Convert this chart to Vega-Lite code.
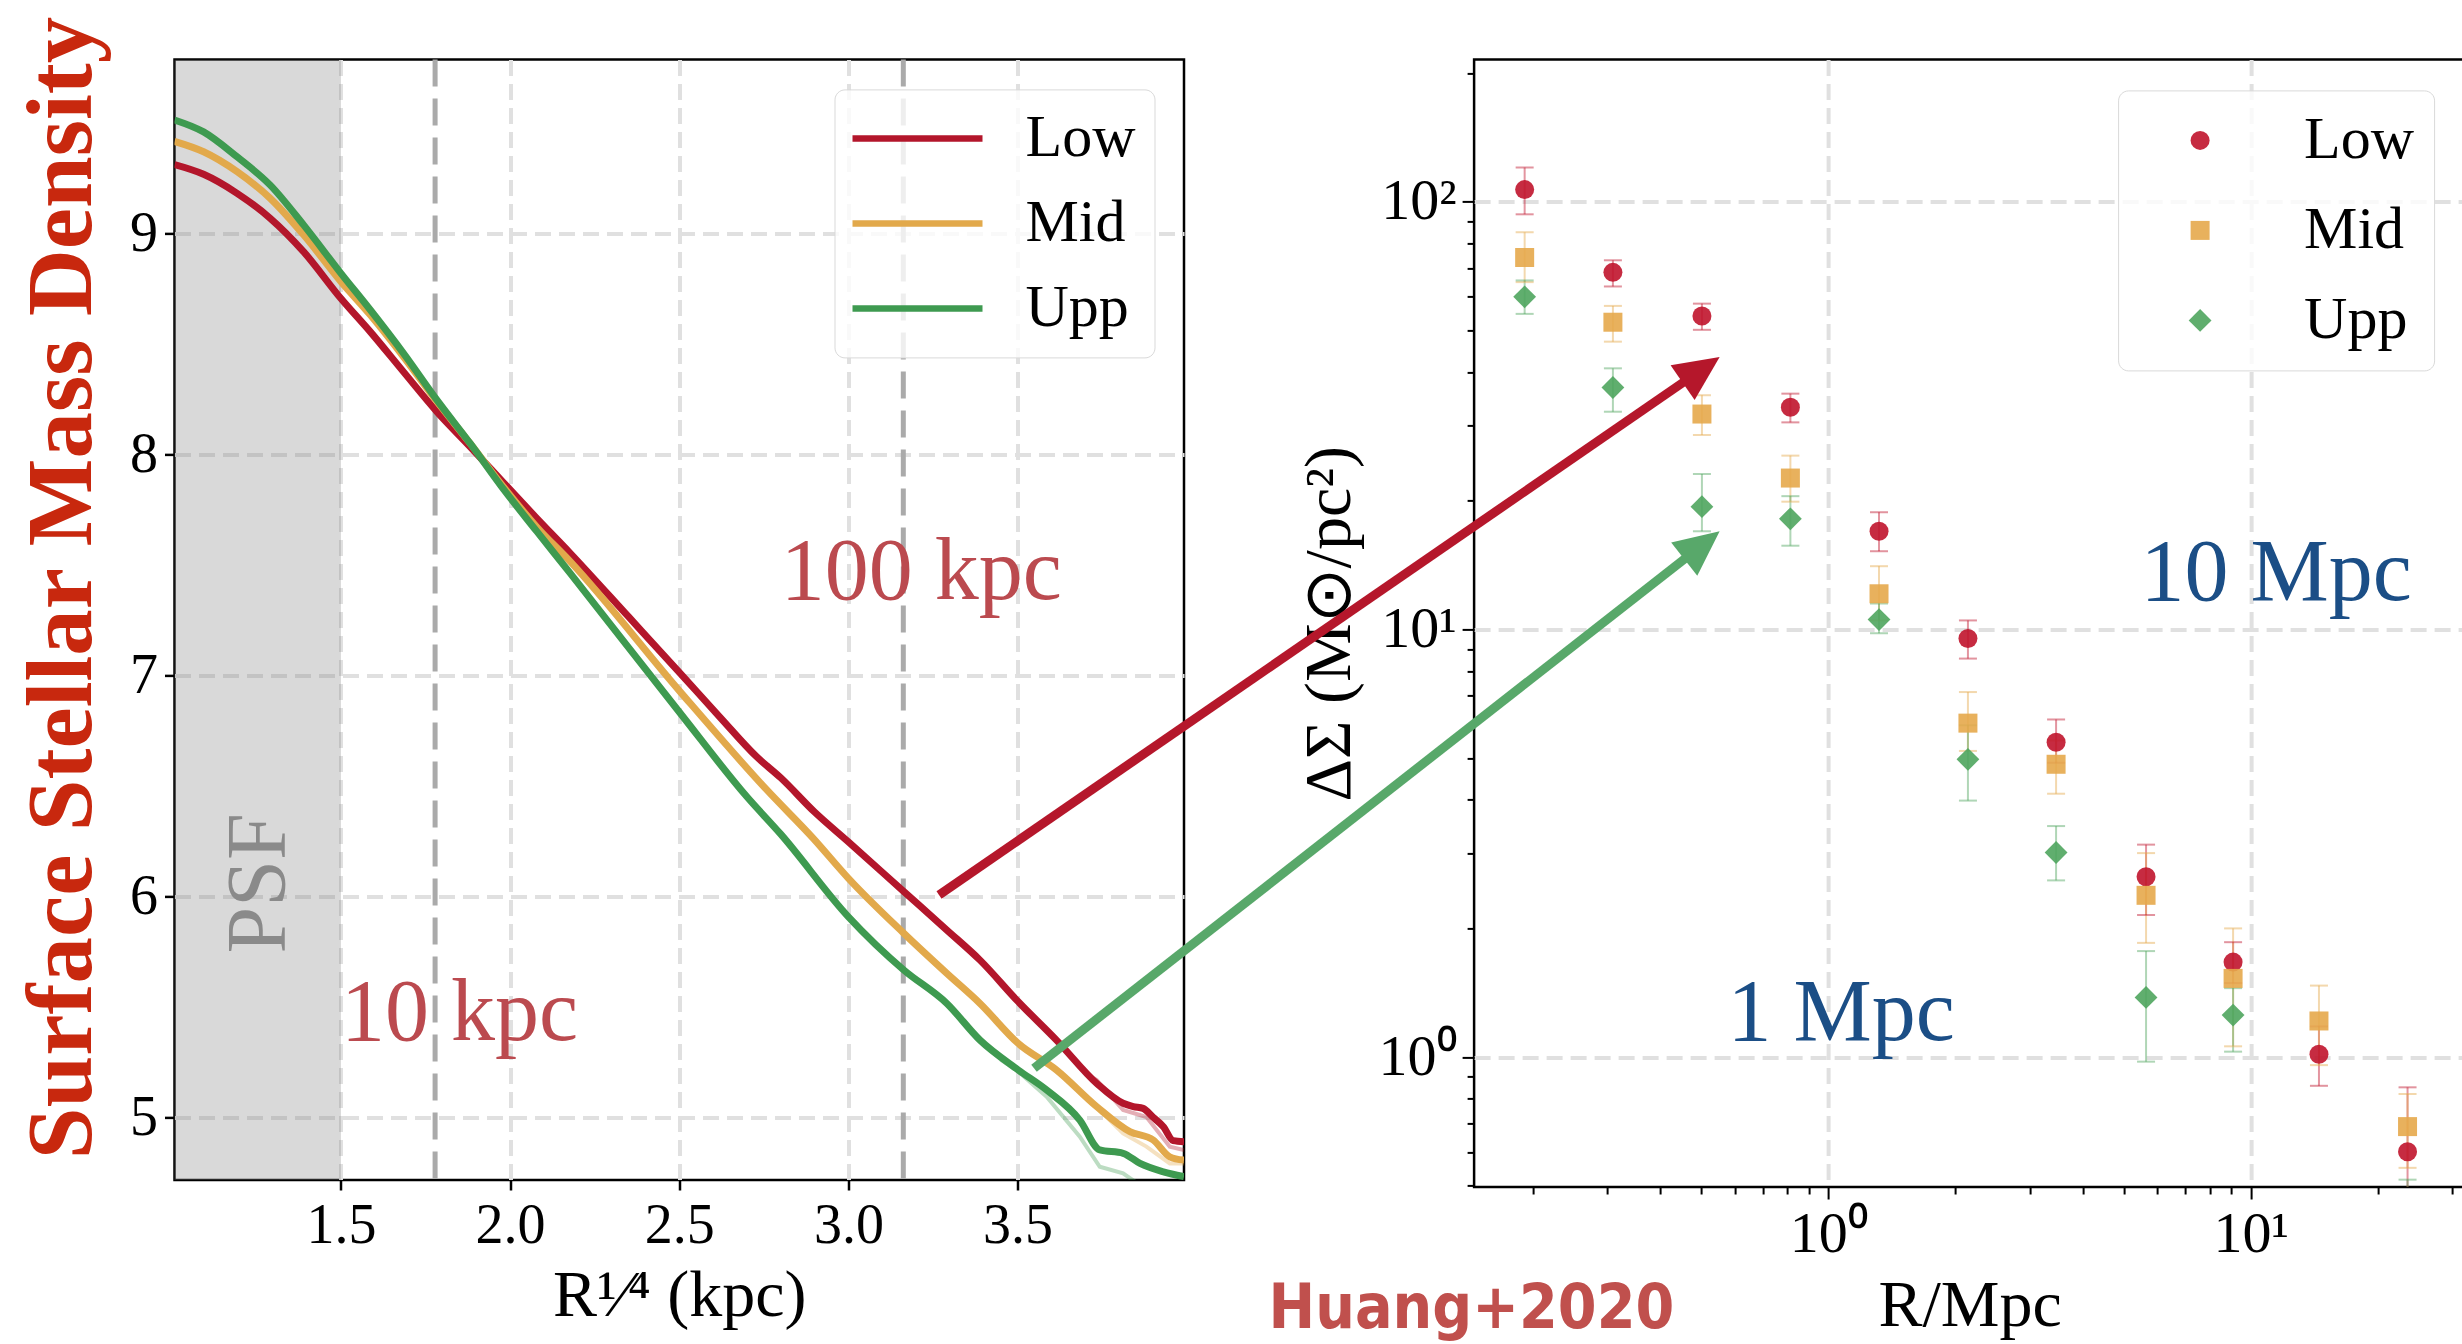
{
 "$schema": "https://vega.github.io/schema/vega-lite/v6.json",
 "autosize": {"type": "none"},
 "padding": {"left": 174.5, "top": 59.4, "right": 2287.5, "bottom": 1284.6},
 "background": "white",
 "config": {"view": {"stroke": "black", "strokeWidth": 2.5}},
 "bounds": "flush",
 "spacing": 289.6,
 "resolve": {"scale": {"color": "independent", "shape": "independent", "size": "independent"}, "legend": {"color": "independent", "shape": "independent", "size": "independent"}},
 "datasets": {
  "psf": [{"R": 1.0, "R2": 1.5}],
  "vlines": [{"R": 1.7783}, {"R": 3.1623}],
  "curves": [
   {"g":"Low","R":1.008,"v":9.31},{"g":"Low","R":1.094,"v":9.266},{"g":"Low","R":1.193,"v":9.18},{"g":"Low","R":1.291,"v":9.067},{"g":"Low","R":1.39,"v":8.915},{"g":"Low","R":1.5,"v":8.704},{"g":"Low","R":1.587,"v":8.553},{"g":"Low","R":1.685,"v":8.372},{"g":"Low","R":1.784,"v":8.191},{"g":"Low","R":1.882,"v":8.033},{"g":"Low","R":1.981,"v":7.87},{"g":"Low","R":2.079,"v":7.709},{"g":"Low","R":2.178,"v":7.551},{"g":"Low","R":2.35,"v":7.264},{"g":"Low","R":2.503,"v":7.008},{"g":"Low","R":2.62,"v":6.81},{"g":"Low","R":2.729,"v":6.63},{"g":"Low","R":2.8,"v":6.535},{"g":"Low","R":2.9,"v":6.38},{"g":"Low","R":3.0,"v":6.245},{"g":"Low","R":3.164,"v":6.02},{"g":"Low","R":3.291,"v":5.846},{"g":"Low","R":3.389,"v":5.71},{"g":"Low","R":3.502,"v":5.522},{"g":"Low","R":3.615,"v":5.348},{"g":"Low","R":3.734,"v":5.152},{"g":"Low","R":3.812,"v":5.062},{"g":"Low","R":3.842,"v":5.047},{"g":"Low","R":3.871,"v":5.039},{"g":"Low","R":3.9,"v":5.0},{"g":"Low","R":3.931,"v":4.956},{"g":"Low","R":3.96,"v":4.893},{"g":"Low","R":3.992,"v":4.888},
   {"g":"Mid","R":1.008,"v":9.415},{"g":"Mid","R":1.094,"v":9.368},{"g":"Mid","R":1.193,"v":9.278},{"g":"Mid","R":1.291,"v":9.157},{"g":"Mid","R":1.39,"v":8.991},{"g":"Mid","R":1.5,"v":8.78},{"g":"Mid","R":1.587,"v":8.629},{"g":"Mid","R":1.685,"v":8.44},{"g":"Mid","R":1.784,"v":8.237},{"g":"Mid","R":1.882,"v":8.048},{"g":"Mid","R":1.981,"v":7.85},{"g":"Mid","R":2.079,"v":7.67},{"g":"Mid","R":2.178,"v":7.513},{"g":"Mid","R":2.503,"v":6.924},{"g":"Mid","R":2.759,"v":6.48},{"g":"Mid","R":2.896,"v":6.261},{"g":"Mid","R":3.0,"v":6.08},{"g":"Mid","R":3.164,"v":5.831},{"g":"Mid","R":3.291,"v":5.65},{"g":"Mid","R":3.389,"v":5.514},{"g":"Mid","R":3.502,"v":5.333},{"g":"Mid","R":3.615,"v":5.213},{"g":"Mid","R":3.734,"v":5.047},{"g":"Mid","R":3.832,"v":4.934},{"g":"Mid","R":3.901,"v":4.896},{"g":"Mid","R":3.95,"v":4.82},{"g":"Mid","R":3.992,"v":4.805},
   {"g":"Upp","R":1.008,"v":9.512},{"g":"Upp","R":1.094,"v":9.458},{"g":"Upp","R":1.193,"v":9.345},{"g":"Upp","R":1.291,"v":9.217},{"g":"Upp","R":1.39,"v":9.036},{"g":"Upp","R":1.5,"v":8.818},{"g":"Upp","R":1.587,"v":8.652},{"g":"Upp","R":1.685,"v":8.456},{"g":"Upp","R":1.784,"v":8.244},{"g":"Upp","R":1.882,"v":8.048},{"g":"Upp","R":1.981,"v":7.84},{"g":"Upp","R":2.079,"v":7.65},{"g":"Upp","R":2.178,"v":7.46},{"g":"Upp","R":2.503,"v":6.827},{"g":"Upp","R":2.7,"v":6.449},{"g":"Upp","R":2.8,"v":6.28},{"g":"Upp","R":3.0,"v":5.906},{"g":"Upp","R":3.164,"v":5.665},{"g":"Upp","R":3.291,"v":5.514},{"g":"Upp","R":3.389,"v":5.348},{"g":"Upp","R":3.502,"v":5.213},{"g":"Upp","R":3.586,"v":5.122},{"g":"Upp","R":3.684,"v":4.986},{"g":"Upp","R":3.743,"v":4.851},{"g":"Upp","R":3.812,"v":4.836},{"g":"Upp","R":3.862,"v":4.79},{"g":"Upp","R":3.931,"v":4.752},{"g":"Upp","R":3.992,"v":4.73}
  ],
  "faint": [
   {"g":"Low","R":3.7,"v":5.2},{"g":"Low","R":3.734,"v":5.167},{"g":"Low","R":3.812,"v":5.032},{"g":"Low","R":3.881,"v":5.0},{"g":"Low","R":3.95,"v":4.866},{"g":"Low","R":3.992,"v":4.85},
   {"g":"Mid","R":3.75,"v":5.02},{"g":"Mid","R":3.812,"v":4.926},{"g":"Mid","R":3.881,"v":4.866},{"g":"Mid","R":3.95,"v":4.79},{"g":"Mid","R":3.992,"v":4.79},
   {"g":"Upp","R":3.45,"v":5.26},{"g":"Upp","R":3.502,"v":5.206},{"g":"Upp","R":3.586,"v":5.092},{"g":"Upp","R":3.684,"v":4.911},{"g":"Upp","R":3.743,"v":4.775},{"g":"Upp","R":3.812,"v":4.745},{"g":"Upp","R":3.862,"v":4.692}
  ],
  "kpc": [{"t":"10 kpc","R":1.5,"v":5.35},{"t":"100 kpc","R":2.8,"v":7.344}],
  "psflab": [{"t":"PSF","R":1.335,"v":6.057}],
  "ylab": [{"t":"Surface Stellar Mass Density","R":0.76,"v":7.394}],
  "wl": [
   {"g":"Low","r":0.191,"ds":106.8,"lo":93.5,"hi":120.3},{"g":"Low","r":0.309,"ds":68.4,"lo":63.4,"hi":73.0},{"g":"Low","r":0.502,"ds":54.1,"lo":50.2,"hi":57.8},{"g":"Low","r":0.813,"ds":33.1,"lo":30.5,"hi":35.6},{"g":"Low","r":1.318,"ds":16.97,"lo":15.24,"hi":18.8},{"g":"Low","r":2.14,"ds":9.53,"lo":8.55,"hi":10.5},{"g":"Low","r":3.46,"ds":5.45,"lo":4.88,"hi":6.16},{"g":"Low","r":5.65,"ds":2.64,"lo":2.15,"hi":3.14},{"g":"Low","r":9.08,"ds":1.668,"lo":1.49,"hi":1.857},{"g":"Low","r":14.5,"ds":1.016,"lo":0.857,"hi":1.18},{"g":"Low","r":23.5,"ds":0.601,"lo":0.45,"hi":0.85},
   {"g":"Mid","r":0.191,"ds":74.1,"lo":64.9,"hi":84.9},{"g":"Mid","r":0.309,"ds":52.3,"lo":47.1,"hi":57.1},{"g":"Mid","r":0.502,"ds":31.9,"lo":28.5,"hi":35.3},{"g":"Mid","r":0.813,"ds":22.6,"lo":19.9,"hi":25.5},{"g":"Mid","r":1.318,"ds":12.12,"lo":10.5,"hi":14.06},{"g":"Mid","r":2.14,"ds":6.04,"lo":5.2,"hi":7.14},{"g":"Mid","r":3.46,"ds":4.84,"lo":4.13,"hi":5.5},{"g":"Mid","r":5.65,"ds":2.39,"lo":1.85,"hi":3.0},{"g":"Mid","r":9.08,"ds":1.528,"lo":1.06,"hi":2.0},{"g":"Mid","r":14.5,"ds":1.215,"lo":0.958,"hi":1.47},{"g":"Mid","r":23.5,"ds":0.688,"lo":0.551,"hi":0.82},
   {"g":"Upp","r":0.191,"ds":59.95,"lo":54.7,"hi":65.5},{"g":"Upp","r":0.309,"ds":36.8,"lo":32.3,"hi":40.8},{"g":"Upp","r":0.502,"ds":19.37,"lo":16.97,"hi":23.1},{"g":"Upp","r":0.813,"ds":18.15,"lo":15.7,"hi":20.5},{"g":"Upp","r":1.318,"ds":10.55,"lo":9.8,"hi":11.5},{"g":"Upp","r":2.14,"ds":4.97,"lo":3.98,"hi":5.97},{"g":"Upp","r":3.46,"ds":3.01,"lo":2.59,"hi":3.47},{"g":"Upp","r":5.65,"ds":1.379,"lo":0.976,"hi":1.77},{"g":"Upp","r":9.08,"ds":1.254,"lo":1.03,"hi":1.45},{"g":"Upp","r":23.5,"ds":0.42,"lo":0.36,"hi":0.517}
  ],
  "arrows": [
   {"id":"red","r":0.007847,"ds":2.3941},{"id":"red","r":0.4541,"ds":37.88},
   {"id":"green","r":0.01317,"ds":0.942},{"id":"green","r":0.4581,"ds":14.66}
  ],
  "heads": [{"id":"red","r":0.5529,"ds":43.35},{"id":"green","r":0.5529,"ds":16.97}],
  "mpc": [{"t":"10 Mpc","r":5.48,"ds":11.7},{"t":"1 Mpc","r":0.577,"ds":1.099}],
  "huang": [{"t":"Huang+2020","r":0.0473,"ds":0.2327}]
 },
 "hconcat": [
  {
   "width": 1009.5,
   "height": 1120.6,
   "resolve": {"scale": {"color": "independent"}, "legend": {"color": "independent"}},
   "layer": [
    {
     "data": {"name": "psf"},
     "mark": {"type": "rect", "fill": "#808080", "opacity": 0.3, "clip": true},
     "encoding": {
      "x": {"field": "R", "type": "quantitative",
        "scale": {"domain": [1.008, 3.992], "nice": false, "zero": false},
        "axis": {"values": [1.5, 2, 2.5, 3, 3.5], "format": ".1f", "labelFont": "Liberation Serif", "labelFontSize": 56, "labelColor": "black", "tickColor": "black", "tickSize": 10, "tickWidth": 2.5, "labelPadding": 8, "domain": false, "grid": true, "gridColor": "#e0e0e0", "gridDash": [16, 8], "gridWidth": 4, "title": "R¹⁄⁴ (kpc)", "titleFont": "Liberation Serif", "titleFontSize": 66, "titleFontWeight": "normal", "titleColor": "black", "titlePadding": 10}},
      "x2": {"field": "R2"}
     }
    },
    {
     "data": {"name": "vlines"},
     "mark": {"type": "rule", "color": "#aaaaaa", "strokeWidth": 5, "strokeDash": [27, 12]},
     "encoding": {"x": {"field": "R", "type": "quantitative"}}
    },
    {
     "data": {"name": "faint"},
     "mark": {"type": "line", "strokeWidth": 4, "opacity": 0.35, "clip": true},
     "encoding": {
      "x": {"field": "R", "type": "quantitative"},
      "y": {"field": "v", "type": "quantitative"},
      "color": {"field": "g", "type": "nominal", "scale": {"domain": ["Low", "Mid", "Upp"], "range": ["#b3162b", "#e2a94b", "#3e9a50"]}, "legend": null}
     }
    },
    {
     "data": {"name": "curves"},
     "mark": {"type": "line", "strokeWidth": 7, "interpolate": "monotone", "clip": true},
     "encoding": {
      "x": {"field": "R", "type": "quantitative"},
      "y": {"field": "v", "type": "quantitative",
        "scale": {"domain": [4.715, 9.786], "nice": false, "zero": false},
        "axis": {"values": [5, 6, 7, 8, 9], "format": "d", "labelFont": "Liberation Serif", "labelFontSize": 56, "labelColor": "black", "tickColor": "black", "tickSize": 10, "tickWidth": 2.5, "labelPadding": 7, "domain": false, "grid": true, "gridColor": "#e0e0e0", "gridDash": [16, 8], "gridWidth": 4, "title": null}},
      "color": {"field": "g", "type": "nominal",
        "scale": {"domain": ["Low", "Mid", "Upp"], "range": ["#b3162b", "#e2a94b", "#3e9a50"]},
        "legend": {"orient": "top-right", "offset": 30, "title": null, "symbolType": "M-5,0L5,0", "symbolSize": 676, "symbolStrokeWidth": 6.5, "labelFont": "Liberation Serif", "labelFontSize": 60, "labelColor": "black", "labelOffset": 78, "padding": 19, "symbolOffset": 34, "rowPadding": 25, "strokeColor": "#d9d9d9", "fillColor": "rgba(255,255,255,0.8)", "cornerRadius": 10}}
     }
    },
    {
     "data": {"name": "kpc"},
     "mark": {"type": "text", "font": "Liberation Serif", "fontSize": 88, "color": "#bb4a4f", "align": "left", "baseline": "alphabetic"},
     "encoding": {"x": {"field": "R", "type": "quantitative"}, "y": {"field": "v", "type": "quantitative"}, "text": {"field": "t"}}
    },
    {
     "data": {"name": "psflab"},
     "mark": {"type": "text", "font": "Liberation Serif", "fontSize": 84, "color": "#8a8a8a", "align": "center", "baseline": "alphabetic", "angle": 270},
     "encoding": {"x": {"field": "R", "type": "quantitative"}, "y": {"field": "v", "type": "quantitative"}, "text": {"field": "t"}}
    },
    {
     "data": {"name": "ylab"},
     "mark": {"type": "text", "font": "Liberation Serif", "fontSize": 93, "fontWeight": "bold", "color": "#c8280e", "align": "center", "baseline": "alphabetic", "angle": 270},
     "encoding": {"x": {"field": "R", "type": "quantitative"}, "y": {"field": "v", "type": "quantitative"}, "text": {"field": "t"}}
    }
   ]
  },
  {
   "width": 991,
   "height": 1127.6,
   "resolve": {"scale": {"color": "independent", "shape": "independent"}, "legend": {"color": "independent", "shape": "independent"}},
   "layer": [
    {
     "data": {"name": "wl"},
     "mark": {"type": "rule", "strokeWidth": 2, "opacity": 0.45, "clip": true},
     "encoding": {
      "x": {"field": "r", "type": "quantitative",
        "scale": {"type": "log", "domain": [0.145, 32.16], "nice": false},
        "axis": {"values": [0.2,0.3,0.4,0.5,0.6,0.7,0.8,0.9,1,2,3,4,5,6,7,8,9,10,20,30], "labelExpr": "datum.value == 1 ? '10⁰' : datum.value == 10 ? '10¹' : ''", "labelFont": "Liberation Serif", "labelFontSize": 58, "labelColor": "black", "tickColor": "black", "tickWidth": 2, "tickSize": {"condition": {"test": "datum.value == 1 || datum.value == 10", "value": 12}, "value": 7}, "labelPadding": 6, "domain": false, "grid": true, "gridColor": "#e0e0e0", "gridDash": [16, 8], "gridWidth": 4, "gridOpacity": {"condition": {"test": "datum.value == 1 || datum.value == 10", "value": 1}, "value": 0}, "title": "R/Mpc", "titleFont": "Liberation Serif", "titleFontSize": 66, "titleFontWeight": "normal", "titleColor": "black", "titlePadding": 10}},
      "y": {"field": "lo", "type": "quantitative",
        "scale": {"type": "log", "domain": [0.497, 215.3], "nice": false},
        "axis": {"values": [0.5,0.6,0.7,0.8,0.9,1,2,3,4,5,6,7,8,9,10,20,30,40,50,60,70,80,90,100,200], "labelExpr": "datum.value == 1 ? '10⁰' : datum.value == 10 ? '10¹' : datum.value == 100 ? '10²' : ''", "labelFont": "Liberation Serif", "labelFontSize": 58, "labelColor": "black", "tickColor": "black", "tickWidth": 2, "tickSize": {"condition": {"test": "datum.value == 1 || datum.value == 10 || datum.value == 100", "value": 12}, "value": 7}, "labelPadding": 6, "domain": false, "grid": true, "gridColor": "#e0e0e0", "gridDash": [16, 8], "gridWidth": 4, "gridOpacity": {"condition": {"test": "datum.value == 1 || datum.value == 10 || datum.value == 100", "value": 1}, "value": 0}, "title": "ΔΣ (M⊙/pc²)", "titleFont": "Liberation Serif", "titleFontSize": 66, "titleFontWeight": "normal", "titleColor": "black", "titlePadding": 15}},
      "y2": {"field": "hi"},
      "color": {"field": "g", "type": "nominal", "scale": {"domain": ["Low", "Mid", "Upp"], "range": ["#c0142c", "#e5a94b", "#4fa55e"]}, "legend": null}
     }
    },
    {
     "data": {"name": "wl"},
     "mark": {"type": "point", "shape": "M-1,0L1,0", "size": 324, "filled": false, "strokeWidth": 2, "opacity": 0.45, "clip": true},
     "encoding": {"x": {"field": "r", "type": "quantitative"}, "y": {"field": "lo", "type": "quantitative"}, "color": {"field": "g", "type": "nominal", "scale": {"domain": ["Low", "Mid", "Upp"], "range": ["#c0142c", "#e5a94b", "#4fa55e"]}, "legend": null}}
    },
    {
     "data": {"name": "wl"},
     "mark": {"type": "point", "shape": "M-1,0L1,0", "size": 324, "filled": false, "strokeWidth": 2, "opacity": 0.45, "clip": true},
     "encoding": {"x": {"field": "r", "type": "quantitative"}, "y": {"field": "hi", "type": "quantitative"}, "color": {"field": "g", "type": "nominal", "scale": {"domain": ["Low", "Mid", "Upp"], "range": ["#c0142c", "#e5a94b", "#4fa55e"]}, "legend": null}}
    },
    {
     "data": {"name": "wl"},
     "mark": {"type": "point", "filled": true, "opacity": 0.9, "size": 361, "clip": true},
     "encoding": {
      "x": {"field": "r", "type": "quantitative"},
      "y": {"field": "ds", "type": "quantitative"},
      "color": {"field": "g", "type": "nominal",
        "scale": {"domain": ["Low", "Mid", "Upp"], "range": ["#c0142c", "#e5a94b", "#4fa55e"]},
        "legend": {"orient": "top-right", "offset": 31, "title": null, "symbolSize": 361, "labelFont": "Liberation Serif", "labelFontSize": 60, "labelColor": "black", "labelOffset": 74, "padding": 20, "symbolOffset": 32, "rowPadding": 30, "strokeColor": "#d9d9d9", "fillColor": "rgba(255,255,255,0.8)", "cornerRadius": 10}},
      "shape": {"field": "g", "type": "nominal", "scale": {"domain": ["Low", "Mid", "Upp"], "range": ["circle", "square", "M0,-1.2L1.2,0L0,1.2L-1.2,0Z"]},
        "legend": {"orient": "top-right", "offset": 31, "title": null, "symbolSize": 361, "labelFont": "Liberation Serif", "labelFontSize": 60, "labelColor": "black", "labelOffset": 74, "padding": 20, "symbolOffset": 32, "rowPadding": 30, "strokeColor": "#d9d9d9", "fillColor": "rgba(255,255,255,0.8)", "cornerRadius": 10}}
     }
    },
    {
     "data": {"name": "arrows"},
     "transform": [{"filter": "datum.id == 'red'"}],
     "mark": {"type": "line", "color": "#b5172b", "strokeWidth": 9, "strokeCap": "butt"},
     "encoding": {"x": {"field": "r", "type": "quantitative"}, "y": {"field": "ds", "type": "quantitative"}}
    },
    {
     "data": {"name": "arrows"},
     "transform": [{"filter": "datum.id == 'green'"}],
     "mark": {"type": "line", "color": "#58a86a", "strokeWidth": 9, "strokeCap": "butt"},
     "encoding": {"x": {"field": "r", "type": "quantitative"}, "y": {"field": "ds", "type": "quantitative"}}
    },
    {
     "data": {"name": "heads"},
     "transform": [{"filter": "datum.id == 'red'"}],
     "mark": {"type": "point", "shape": "M0,0L-0.47,1L0.47,1Z", "size": 8100, "filled": true, "opacity": 1, "color": "#b5172b", "angle": 55.4},
     "encoding": {"x": {"field": "r", "type": "quantitative"}, "y": {"field": "ds", "type": "quantitative"}}
    },
    {
     "data": {"name": "heads"},
     "transform": [{"filter": "datum.id == 'green'"}],
     "mark": {"type": "point", "shape": "M0,0L-0.47,1L0.47,1Z", "size": 8100, "filled": true, "opacity": 1, "color": "#58a86a", "angle": 51.9},
     "encoding": {"x": {"field": "r", "type": "quantitative"}, "y": {"field": "ds", "type": "quantitative"}}
    },
    {
     "data": {"name": "mpc"},
     "mark": {"type": "text", "font": "Liberation Serif", "fontSize": 88, "color": "#1b4e86", "align": "left", "baseline": "alphabetic"},
     "encoding": {"x": {"field": "r", "type": "quantitative"}, "y": {"field": "ds", "type": "quantitative"}, "text": {"field": "t"}}
    },
    {
     "data": {"name": "huang"},
     "mark": {"type": "text", "font": "DejaVu Sans Condensed, Liberation Sans Narrow, Liberation Sans", "fontSize": 62, "fontWeight": "bold", "color": "#c0504d", "align": "left", "baseline": "alphabetic"},
     "encoding": {"x": {"field": "r", "type": "quantitative"}, "y": {"field": "ds", "type": "quantitative"}, "text": {"field": "t"}}
    }
   ]
  }
 ]
}
